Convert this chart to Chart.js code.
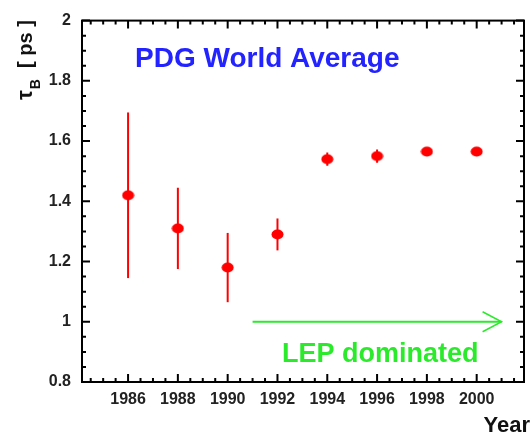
<!DOCTYPE html>
<html lang="en">
<head>
<meta charset="UTF-8">
<title>B lifetime - PDG World Average</title>
<script src="https://cdn.jsdelivr.net/npm/chart.js@4.4.1/dist/chart.umd.min.js"></script>
<style>
    html, body { margin: 0; padding: 0; background: #fff; }
    #wrap { width: 531px; height: 438px; }
</style>
</head>
<body>
<div id="wrap">
    <canvas id="lifetimeChart" width="531" height="438"></canvas>
</div>

<script>
    // PDG average of the B lifetime, by year
    var years = [1986, 1988, 1990, 1992, 1994, 1996, 1998, 2000];
    var tauB = [1.42, 1.31, 1.18, 1.29, 1.54, 1.55, 1.565, 1.565];
    var tauErr = [0.275, 0.135, 0.115, 0.053, 0.022, 0.022, 0.012, 0.012];

    var yearTicks = [1986, 1988, 1990, 1992, 1994, 1996, 1998, 2000];
    var tauTicks = [0.8, 1.0, 1.2, 1.4, 1.6, 1.8, 2.0];

    // LEP era arrow (years, at tau = 1)
    var lepStart = 1991;
    var lepEnd = 2001;
    var lepLevel = 1.0;

    var red = '#ff0000';
    var green = '#2bea2b';
    var blue = '#2323ff';
    var font = '"Liberation Sans", Arial, Helvetica, sans-serif';

    // slightly wide dot for the markers
    var dot = document.createElement('canvas');
    dot.width = 13;
    dot.height = 11;
    var dctx = dot.getContext('2d');
    dctx.fillStyle = red;
    dctx.beginPath();
    dctx.ellipse(6.5, 5.5, 6, 5, 0, 0, 2 * Math.PI);
    dctx.fill();

    var points = [];
    for (var i = 0; i < years.length; i++) {
        points.push({ x: years[i], y: tauB[i] });
    }

    var errorBars = {
        id: 'errorBars',
        beforeDatasetsDraw: function (chart) {
            var ctx = chart.ctx, xs = chart.scales.x, ys = chart.scales.y;
            ctx.save();
            ctx.strokeStyle = red;
            ctx.lineWidth = 2;
            for (var i = 0; i < years.length; i++) {
                var px = xs.getPixelForValue(years[i]);
                ctx.beginPath();
                ctx.moveTo(px, ys.getPixelForValue(tauB[i] - tauErr[i]));
                ctx.lineTo(px, ys.getPixelForValue(tauB[i] + tauErr[i]));
                ctx.stroke();
            }
            ctx.restore();
        }
    };

    var frameAndNotes = {
        id: 'frameAndNotes',
        afterDraw: function (chart) {
            var ctx = chart.ctx, a = chart.chartArea;
            var xs = chart.scales.x, ys = chart.scales.y;
            ctx.save();

            // box
            ctx.strokeStyle = '#000';
            ctx.lineWidth = 2;
            ctx.strokeRect(a.left, a.top, a.right - a.left, a.bottom - a.top);

            // inward ticks on all four sides
            ctx.beginPath();
            for (var k = Math.ceil(xs.min * 2); k <= Math.floor(xs.max * 2); k++) {
                var px = xs.getPixelForValue(k / 2);
                var len = (k % 4 === 0) ? 8 : 4;
                ctx.moveTo(px, a.bottom); ctx.lineTo(px, a.bottom - len);
                ctx.moveTo(px, a.top); ctx.lineTo(px, a.top + len);
            }
            for (var j = Math.ceil(ys.min * 20); j <= Math.floor(ys.max * 20 + 1e-6); j++) {
                var py = ys.getPixelForValue(j / 20);
                var l2 = (j % 4 === 0) ? 8 : 4;
                ctx.moveTo(a.left, py); ctx.lineTo(a.left + l2, py);
                ctx.moveTo(a.right, py); ctx.lineTo(a.right - l2, py);
            }
            ctx.stroke();

            // LEP arrow
            var x1 = xs.getPixelForValue(lepStart);
            var x2 = xs.getPixelForValue(lepEnd);
            var yl = ys.getPixelForValue(lepLevel);
            ctx.strokeStyle = green;
            ctx.lineWidth = 2;
            ctx.beginPath();
            ctx.moveTo(x1, yl); ctx.lineTo(x2, yl);
            ctx.stroke();
            ctx.lineWidth = 1.5;
            ctx.beginPath();
            ctx.moveTo(x2 - 19, yl - 10); ctx.lineTo(x2, yl); ctx.lineTo(x2 - 19, yl + 10);
            ctx.stroke();

            ctx.textBaseline = 'alphabetic';
            ctx.fillStyle = green;
            ctx.font = 'bold 27px ' + font;
            ctx.textAlign = 'left';
            ctx.fillText('LEP dominated', 282, 362);

            ctx.fillStyle = blue;
            ctx.font = 'bold 28px ' + font;
            ctx.fillText('PDG World Average', 135, 67);

            ctx.fillStyle = '#111';
            ctx.font = 'bold 22px ' + font;
            ctx.textAlign = 'right';
            ctx.fillText('Year', 530, 432);

            // y title: tau_B [ ps ]
            ctx.translate(32, 100);
            ctx.rotate(-Math.PI / 2);
            ctx.textAlign = 'left';
            ctx.font = 'bold 22px ' + font;
            ctx.fillText('\u03c4', 0, 0);
            var w = ctx.measureText('\u03c4').width;
            ctx.font = 'bold 14px ' + font;
            ctx.fillText('B', w + 1, 8);
            w += ctx.measureText('B').width + 1;
            ctx.font = 'bold 20px ' + font;
            ctx.fillText('  [ ps ]', w, 0);

            ctx.restore();
        }
    };

    var chart = new Chart(document.getElementById('lifetimeChart'), {
        type: 'scatter',
        data: {
            datasets: [{
                data: points,
                pointStyle: dot,
                pointRadius: 6,
                backgroundColor: red,
                borderColor: red
            }]
        },
        options: {
            responsive: false,
            animation: false,
            layout: { padding: { top: 12, right: 1, left: 0, bottom: 0 } },
            plugins: { legend: { display: false }, tooltip: { enabled: false } },
            scales: {
                x: {
                    type: 'linear',
                    min: 1984.15,
                    max: 2001.9,
                    grid: { display: false, drawTicks: false },
                    border: { display: false },
                    afterBuildTicks: function (s) {
                        s.ticks = yearTicks.map(function (v) { return { value: v }; });
                    },
                    afterFit: function (s) { s.height = 56; },
                    ticks: {
                        padding: 8,
                        maxRotation: 0,
                        autoSkip: false,
                        color: '#222',
                        font: { family: font, size: 16, weight: 'bold' },
                        callback: function (v) { return String(v); }
                    }
                },
                y: {
                    min: 0.8,
                    max: 2.0,
                    grid: { display: false, drawTicks: false },
                    border: { display: false },
                    afterBuildTicks: function (s) {
                        s.ticks = tauTicks.map(function (v) { return { value: v }; });
                    },
                    afterFit: function (s) { s.width = 82; },
                    ticks: {
                        padding: 11,
                        autoSkip: false,
                        color: '#222',
                        font: { family: font, size: 16, weight: 'bold' },
                        callback: function (v) { return String(Math.round(v * 10) / 10); }
                    }
                }
            }
        },
        plugins: [errorBars, frameAndNotes]
    });
</script>
</body>
</html>
